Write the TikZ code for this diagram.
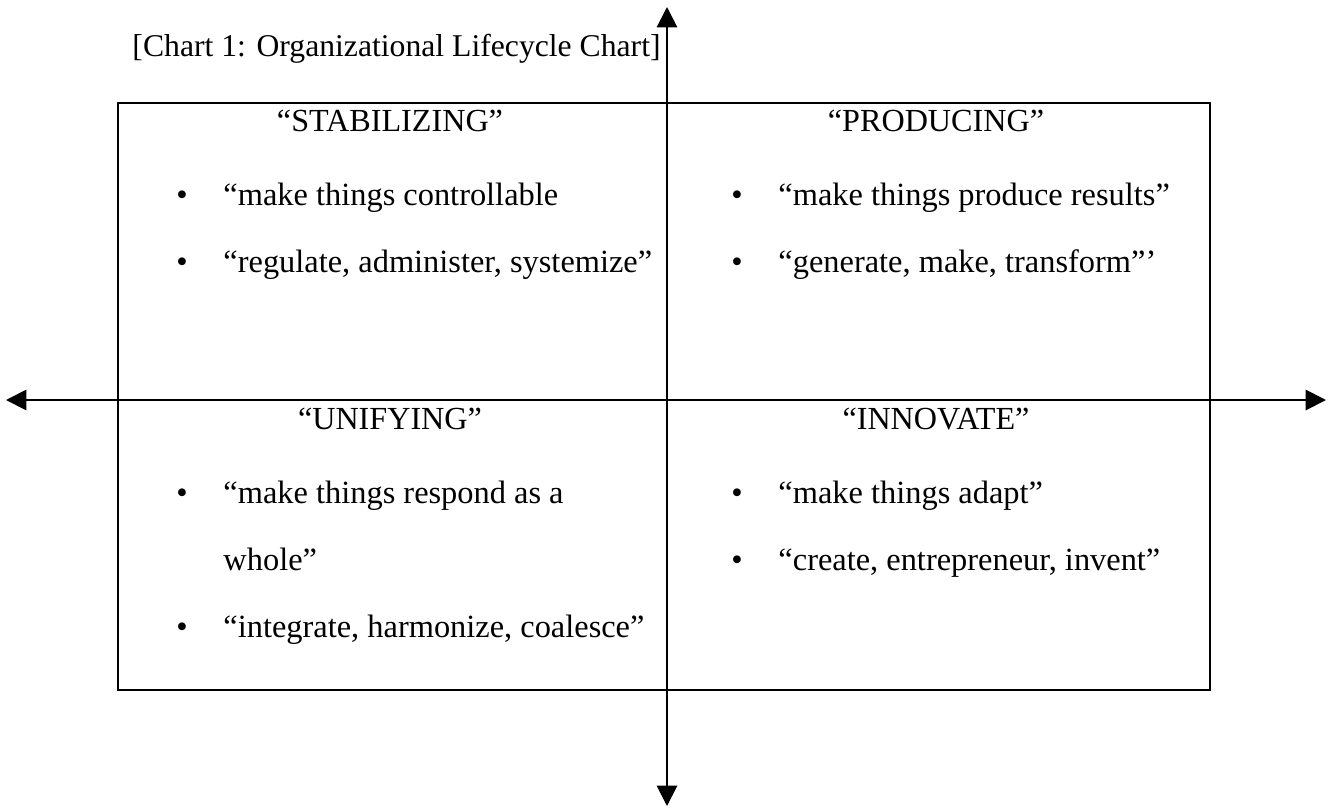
\documentclass[tikz,border=0pt]{standalone}
\usepackage{fontspec}
\setmainfont{Liberation Serif}
\usetikzlibrary{positioning, arrows.meta}

\begin{document}
\begin{tikzpicture}[x=0.41667pt, y=-0.41667pt,
  axis/.style={{Triangle[length=8.5pt,width=8.5pt]}-{Triangle[length=8.5pt,width=8.5pt]}, line width=0.8pt},
  frame/.style={draw, line width=0.9pt},
  txt/.style={inner sep=0pt, anchor=base west, font=\fontsize{13.5}{15}\selectfont},
  head/.style={inner sep=0pt, anchor=base, font=\fontsize{13.4}{15}\selectfont},
  dot/.style={inner sep=0pt, anchor=base, font=\fontsize{13.5}{15}\selectfont}]
\useasboundingbox (0,0) rectangle (1329,809);

% frame and axes
\coordinate (NW) at (118,103);
\coordinate (SE) at (1210,690);
\coordinate (top) at (667,7);
\coordinate (bottom) at (667,806);
\coordinate (west) at (6,400);
\coordinate (east) at (1326,400);
\draw[frame] (NW) rectangle (SE);
\draw[axis] (west) -- (east);
\draw[axis] (top) -- (bottom);

\node[txt, font=\fontsize{13.2}{15}\selectfont] (title) at (132,56) {[Chart 1: Organizational Lifecycle Chart]};

% upper left
\node[head] (stab) at (390,131) {“STABILIZING”};
\node[dot] (b1) at (182,205) {•};
\node[txt] (s1) at (223,205) {“make things controllable};
\node[dot] (b2) at (182,272) {•};
\node[txt] (s2) at (223,272) {“regulate, administer, systemize”};

% upper right
\node[head] (prod) at (936,131) {“PRODUCING”};
\node[dot] (b3) at (737,205) {•};
\node[txt] (p1) at (778,205) {“make things produce results”};
\node[dot] (b4) at (737,272) {•};
\node[txt] (p2) at (778,272) {“generate, make, transform”’};

% lower left
\node[head] (unif) at (390,429) {“UNIFYING”};
\node[dot] (b5) at (182,503) {•};
\node[txt] (u1) at (223,503) {“make things respond as a};
\node[txt] (u2) at (223,570) {whole”};
\node[dot] (b6) at (182,637) {•};
\node[txt] (u3) at (223,637) {“integrate, harmonize, coalesce”};

% lower right
\node[head] (innov) at (936,429) {“INNOVATE”};
\node[dot] (b7) at (737,503) {•};
\node[txt] (i1) at (778,503) {“make things adapt”};
\node[dot] (b8) at (737,570) {•};
\node[txt] (i2) at (778,570) {“create, entrepreneur, invent”};
\end{tikzpicture}
\end{document}
